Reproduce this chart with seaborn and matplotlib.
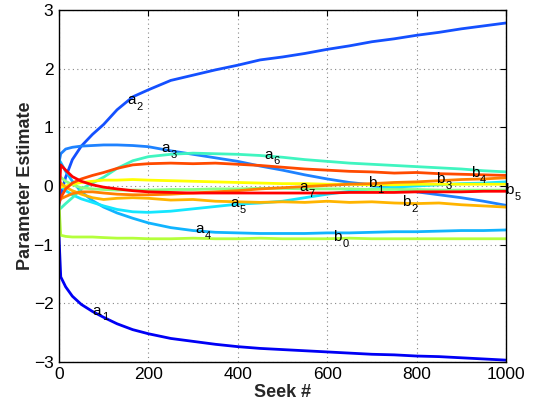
import numpy as np
import pandas as pd
import matplotlib
matplotlib.use("Agg")
import matplotlib.pyplot as plt
import seaborn as sns

# Seek index at which each estimate is sampled
seek = [0, 4, 15, 30, 50, 75, 100, 130, 165, 200, 250, 300, 350, 400, 450,
        500, 550, 600, 650, 700, 750, 800, 850, 900, 950, 1000]

a1 = [-0.85, -1.55, -1.72, -1.88, -2.02, -2.14, -2.24, -2.35, -2.45, -2.52, -2.60, -2.65, -2.70,
      -2.74, -2.77, -2.79, -2.81, -2.83, -2.85, -2.87, -2.88, -2.90, -2.91, -2.93, -2.95, -2.97]
a2 = [-0.35, -0.15, 0.15, 0.45, 0.68, 0.88, 1.05, 1.30, 1.52, 1.64, 1.80, 1.89, 1.98,
      2.06, 2.15, 2.20, 2.26, 2.33, 2.39, 2.46, 2.51, 2.57, 2.62, 2.68, 2.73, 2.78]
a3 = [0.40, 0.55, 0.63, 0.66, 0.68, 0.69, 0.70, 0.70, 0.69, 0.67, 0.60, 0.54, 0.48,
      0.42, 0.34, 0.27, 0.19, 0.12, 0.06, 0.02, -0.04, -0.10, -0.15, -0.20, -0.26, -0.33]
a4 = [0.45, 0.40, 0.25, 0.08, -0.10, -0.25, -0.36, -0.46, -0.55, -0.63, -0.71, -0.76, -0.79,
      -0.80, -0.81, -0.81, -0.81, -0.80, -0.80, -0.79, -0.78, -0.78, -0.77, -0.76, -0.76, -0.75]
a5 = [0.10, 0.00, -0.08, -0.15, -0.22, -0.28, -0.34, -0.40, -0.44, -0.45, -0.43, -0.39, -0.35,
      -0.31, -0.29, -0.26, -0.20, -0.14, -0.09, -0.05, -0.02, 0.00, 0.02, 0.04, 0.05, 0.07]
a6 = [-0.40, -0.38, -0.30, -0.20, -0.05, 0.05, 0.15, 0.30, 0.43, 0.50, 0.54, 0.56, 0.55,
      0.54, 0.52, 0.49, 0.45, 0.42, 0.39, 0.37, 0.35, 0.33, 0.31, 0.29, 0.26, 0.24]
a7 = [0.20, 0.15, 0.08, 0.02, -0.03, -0.05, -0.06, -0.07, -0.07, -0.07, -0.06, -0.06, -0.05,
      -0.05, -0.04, -0.04, -0.05, -0.05, -0.05, -0.06, -0.06, -0.06, -0.07, -0.07, -0.07, -0.07]
b0 = [-0.30, -0.84, -0.86, -0.87, -0.87, -0.87, -0.88, -0.89, -0.89, -0.90, -0.90, -0.89, -0.90,
      -0.90, -0.89, -0.90, -0.90, -0.90, -0.89, -0.90, -0.90, -0.90, -0.90, -0.90, -0.90, -0.90]
b1 = [-0.05, -0.02, 0.00, 0.03, 0.06, 0.08, 0.10, 0.10, 0.11, 0.10, 0.09, 0.08, 0.07,
      0.06, 0.05, 0.04, 0.04, 0.03, 0.03, 0.02, 0.02, 0.03, 0.03, 0.03, 0.03, 0.03]
b2 = [0.10, 0.05, -0.02, -0.08, -0.14, -0.20, -0.23, -0.21, -0.20, -0.21, -0.24, -0.23, -0.26,
      -0.27, -0.28, -0.27, -0.28, -0.26, -0.28, -0.27, -0.29, -0.30, -0.29, -0.32, -0.34, -0.36]
b3 = [-0.25, -0.22, -0.18, -0.13, -0.10, -0.10, -0.12, -0.14, -0.15, -0.15, -0.14, -0.12, -0.10,
      -0.08, -0.05, -0.03, -0.01, 0.01, 0.03, 0.04, 0.06, 0.07, 0.09, 0.11, 0.12, 0.14]
b4 = [-0.30, -0.20, -0.05, 0.05, 0.12, 0.18, 0.23, 0.30, 0.36, 0.38, 0.39, 0.38, 0.39,
      0.37, 0.35, 0.32, 0.29, 0.27, 0.25, 0.24, 0.22, 0.23, 0.21, 0.20, 0.19, 0.18]
b5 = [-0.25, 0.36, 0.27, 0.16, 0.08, 0.02, -0.02, -0.05, -0.08, -0.10, -0.11, -0.12, -0.12,
      -0.12, -0.12, -0.12, -0.12, -0.12, -0.11, -0.11, -0.11, -0.10, -0.10, -0.10, -0.09, -0.09]

names = ["a1", "a2", "a3", "a4", "a5", "a6", "a7", "b0", "b1", "b2", "b3", "b4", "b5"]
series = [a1, a2, a3, a4, a5, a6, a7, b0, b1, b2, b3, b4, b5]
colors = ["#0000f5", "#1450ff", "#1e82ff", "#10b4ff", "#14e6ff", "#40f5c0", "#8cff80",
          "#b4ff3c", "#ffff00", "#ffb400", "#ff8000", "#ff4a00", "#ff0000"]

df = pd.DataFrame({
    "seek": np.tile(seek, len(names)),
    "value": np.concatenate(series),
    "param": np.repeat(names, len(seek)),
})

sns.set_style("white")
plt.rcParams["font.family"] = ["Liberation Sans", "DejaVu Sans"]

fig = plt.figure(figsize=(5.36, 4.03), dpi=100)
ax = fig.add_axes([0.110, 0.102, 0.834, 0.873])

sns.lineplot(data=df, x="seek", y="value", hue="param", hue_order=names,
             palette=dict(zip(names, colors)), linewidth=2.0, sort=False,
             estimator=None, legend=False, ax=ax)

# name tags spaced evenly along the seek axis: letter plus lowered index
for k, (nm, ys) in enumerate(zip(names, series)):
    xs = 1000.0 / len(names) * (k + 1)
    yv = float(np.interp(xs, seek, ys))
    ax.annotate(nm[0], (xs, yv), xytext=(-0.5, 1), textcoords="offset points",
                fontsize=11, ha="left", va="center", color="black", zorder=5)
    ax.annotate(nm[1], (xs, yv), xytext=(6, -4), textcoords="offset points",
                fontsize=8, ha="left", va="center", color="black", zorder=5)

ax.set_xlim(0, 1000)
ax.set_ylim(-3, 3)
ax.set_xticks([0, 200, 400, 600, 800, 1000])
ax.set_yticks([-3, -2, -1, 0, 1, 2, 3])
ax.set_yticklabels(["\u22123", "\u22122", "\u22121", "0", "1", "2", "3"])
ax.grid(True, linestyle=(0, (1, 3)), color="#888888", linewidth=0.8)
ax.tick_params(direction="in", length=4, width=0.8, top=True, right=True,
               labelsize=12.5, colors="black", pad=4)
for s in ax.spines.values():
    s.set_visible(True)
    s.set_color("black")
    s.set_linewidth(1.0)
ax.set_xlabel("Seek #", fontsize=13, fontweight="bold", labelpad=1)
ax.set_ylabel("Parameter Estimate", fontsize=13, fontweight="bold", labelpad=0)

fig.savefig("out.png", dpi=100)
